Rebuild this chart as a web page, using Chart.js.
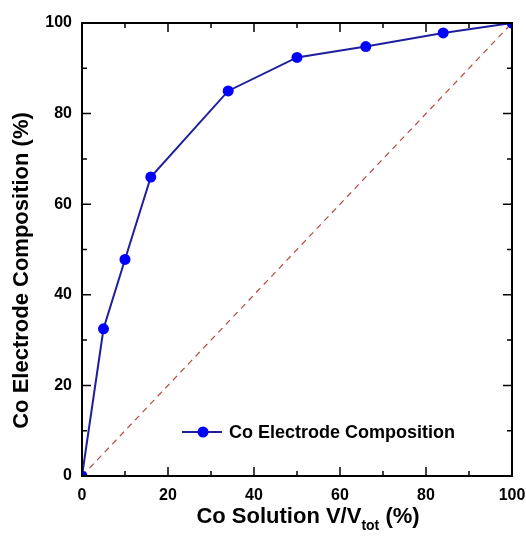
<!DOCTYPE html>
<html>
<head>
<meta charset="utf-8">
<script src="https://cdn.jsdelivr.net/npm/chart.js@4.4.1/dist/chart.umd.min.js"></script>
<style>
  html, body { margin: 0; padding: 0; background: #fff; }
  #wrap { width: 526px; height: 542px; }
</style>
</head>
<body>
<div id="wrap"><canvas id="chart" width="526" height="542"></canvas></div>
<script>
// DATOS
const volumenCo = [0, 5, 10, 16, 34, 50, 66, 84, 100];
const composicionCo = [0, 32.5, 47.8, 66, 85, 92.4, 94.8, 97.8, 100];
const diagonalX = [0, 100];
const diagonalY = [0, 100];
const ticksX = [0, 20, 40, 60, 80, 100];
const ticksY = [0, 20, 40, 60, 80, 100];
const nombreSerie = "Co Electrode Composition";
const tituloY = "Co Electrode Composition (%)";
const tituloX = ["Co Solution V/V", "tot", " (%)"];

const fuente = "'Liberation Sans', Arial, sans-serif";
const azulLinea = "#1f1f9e";
const azulPunto = "#0000ff";

// marcas menores a mitad de camino entre las mayores
function menores(lista) {
    const res = [];
    for (let i = 0; i < lista.length - 1; i++) {
        res.push((lista[i] + lista[i + 1]) / 2);
    }
    return res;
}

// marco, marcas hacia dentro y leyenda
const marco = {
    id: 'marco',
    afterDatasetsDraw(chart) {
        const { ctx, chartArea: a, scales } = chart;
        const x = scales.x, y = scales.y;
        ctx.save();
        ctx.strokeStyle = "#000";
        ctx.lineWidth = 1.5;
        const marca = (largo, valoresX, valoresY) => {
            valoresX.forEach(v => {
                const px = x.getPixelForValue(v);
                ctx.beginPath();
                ctx.moveTo(px, a.bottom); ctx.lineTo(px, a.bottom - largo);
                ctx.moveTo(px, a.top); ctx.lineTo(px, a.top + largo);
                ctx.stroke();
            });
            valoresY.forEach(v => {
                const py = y.getPixelForValue(v);
                ctx.beginPath();
                ctx.moveTo(a.left, py); ctx.lineTo(a.left + largo, py);
                ctx.moveTo(a.right, py); ctx.lineTo(a.right - largo, py);
                ctx.stroke();
            });
        };
        marca(9, ticksX, ticksY);
        marca(5, menores(ticksX), menores(ticksY));
        ctx.lineWidth = 2;
        ctx.strokeRect(a.left, a.top, a.right - a.left, a.bottom - a.top);

        // leyenda
        const ly = a.bottom - 44;
        const lx = a.left + 100;
        ctx.strokeStyle = azulLinea;
        ctx.lineWidth = 2;
        ctx.beginPath();
        ctx.moveTo(lx, ly); ctx.lineTo(lx + 40, ly);
        ctx.stroke();
        ctx.beginPath();
        ctx.arc(lx + 21, ly, 5.5, 0, Math.PI * 2);
        ctx.fillStyle = azulPunto;
        ctx.fill();
        ctx.fillStyle = "#000";
        ctx.font = "bold 18px " + fuente;
        ctx.textBaseline = "middle";
        ctx.textAlign = "left";
        ctx.fillText(nombreSerie, lx + 47, ly + 1);
        ctx.restore();
    },
    afterDraw(chart) {
        const { ctx, chartArea: a } = chart;
        ctx.save();
        ctx.fillStyle = "#000";
        // titulo eje Y
        ctx.font = "bold 22px " + fuente;
        ctx.textAlign = "center";
        ctx.textBaseline = "middle";
        ctx.translate(a.left - 60, (a.top + a.bottom) / 2 + 21);
        ctx.rotate(-Math.PI / 2);
        ctx.fillText(tituloY, 0, 0);
        ctx.restore();

        // titulo eje X con subindice
        ctx.save();
        ctx.fillStyle = "#000";
        ctx.textBaseline = "alphabetic";
        ctx.textAlign = "left";
        const grande = "bold 22px " + fuente;
        const chico = "bold 14px " + fuente;
        ctx.font = grande;
        const w1 = ctx.measureText(tituloX[0]).width;
        const w3 = ctx.measureText(tituloX[2]).width;
        ctx.font = chico;
        const w2 = ctx.measureText(tituloX[1]).width;
        const total = w1 + w2 + w3;
        let px = (a.left + a.right) / 2 + 11 - total / 2;
        const base = a.bottom + 47;
        ctx.font = grande;
        ctx.fillText(tituloX[0], px, base);
        px += w1;
        ctx.font = chico;
        ctx.fillText(tituloX[1], px, base + 7);
        px += w2;
        ctx.font = grande;
        ctx.fillText(tituloX[2], px, base);
        ctx.restore();
    }
};

const config = {
    type: 'line',
    data: {
        datasets: [{
            label: nombreSerie,
            data: volumenCo.map((v, i) => ({ x: v, y: composicionCo[i] })),
            borderColor: azulLinea,
            borderWidth: 2,
            backgroundColor: azulPunto,
            pointBackgroundColor: azulPunto,
            pointBorderColor: azulPunto,
            pointRadius: 5.5,
            pointBorderWidth: 0,
            tension: 0,
            clip: 0,
            order: 1
        }, {
            label: "diagonal",
            data: diagonalX.map((v, i) => ({ x: v, y: diagonalY[i] })),
            borderColor: "#b8463e",
            borderWidth: 1.2,
            borderDash: [6, 5],
            pointRadius: 0,
            tension: 0,
            clip: 0,
            order: 2
        }]
    },
    options: {
        responsive: false,
        animation: false,
        layout: { padding: { top: 23, right: 14, bottom: 0, left: 0 } },
        plugins: {
            legend: { display: false },
            tooltip: { enabled: false }
        },
        scales: {
            x: {
                type: 'linear',
                min: ticksX[0],
                max: ticksX[ticksX.length - 1],
                afterFit: (eje) => {
                    eje.height = 66;
                    eje.paddingLeft = 0;
                    eje.paddingRight = 0;
                },
                afterBuildTicks: (eje) => { eje.ticks = ticksX.map(v => ({ value: v })); },
                ticks: {
                    color: "#000",
                    font: { family: fuente, size: 16, weight: 'bold' },
                    padding: 10,
                    maxRotation: 0
                },
                grid: { display: false, drawTicks: false },
                border: { display: false }
            },
            y: {
                type: 'linear',
                min: ticksY[0],
                max: ticksY[ticksY.length - 1],
                afterFit: (eje) => {
                    eje.width = 82;
                    eje.paddingTop = 0;
                    eje.paddingBottom = 0;
                },
                afterBuildTicks: (eje) => { eje.ticks = ticksY.map(v => ({ value: v })); },
                ticks: {
                    color: "#000",
                    font: { family: fuente, size: 16, weight: 'bold' },
                    padding: 10
                },
                grid: { display: false, drawTicks: false },
                border: { display: false }
            }
        }
    },
    plugins: [marco]
};

new Chart(document.getElementById("chart"), config);
</script>
</body>
</html>
